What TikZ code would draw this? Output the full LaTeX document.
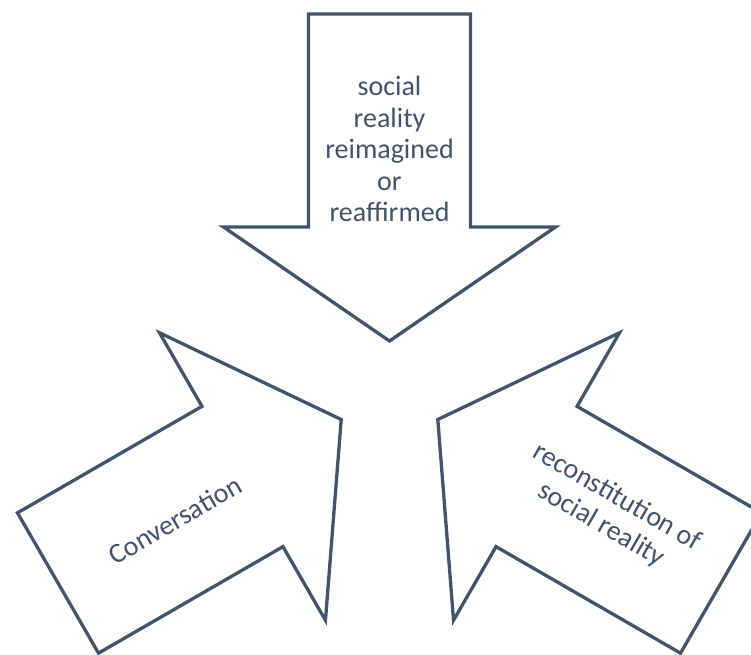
\documentclass[tikz,border=0pt]{standalone}
\usepackage{fontspec}
\setmainfont{Carlito}
\definecolor{slate}{HTML}{44546A}
\begin{document}
\begin{tikzpicture}[x=1pt,y=1pt,
  arrowline/.style={draw=slate,line width=3.3pt,line join=miter,fill=white},
  bigarrow/.pic={\draw[arrowline] (0,-81) -- (213,-81) -- (213,-166) -- (327,0) -- (213,166) -- (213,81) -- (0,81) -- cycle;},
  lbl/.style={text=slate,font=\fontsize{28}{31.5}\selectfont,align=center,inner sep=0pt}]
\useasboundingbox (0,0) rectangle (751,654);
\clip (0,0) rectangle (751,654);
\pic (top) [rotate=-90] at (389.5,640) {bigarrow};
\pic (left) [rotate=30] at (58,71) {bigarrow};
\pic (right) [rotate=150] at (721,71) {bigarrow};
\node[lbl] (toptext) at (389.5,505) {social\\reality\\reimagined\\or\\reaffirmed};
\node[lbl,rotate=30] (lefttext) at (175,134) {Conversation};
\node[lbl,rotate=-30] (righttext) at (609,143) {reconstitution of\\social reality};
\end{tikzpicture}
\end{document}
